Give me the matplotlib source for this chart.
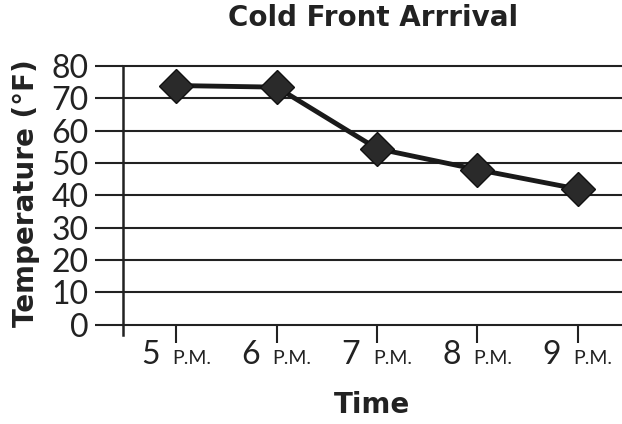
import numpy as np
import matplotlib.pyplot as plt

times = ["5", "6", "7", "8", "9"]
suffix = "P.M."
temps = [74, 73.5, 54.5, 48, 42]
yticks = [0, 10, 20, 30, 40, 50, 60, 70, 80]

num_font = "Lato"
head_font = "DejaVu Sans"

fig = plt.figure(figsize=(6.22, 4.24), dpi=100)
ax = fig.add_axes([0.198, 0.234, 0.80, 0.61])

x = np.arange(len(times))
ax.plot(x, temps, color="#1a1a1a", lw=3.5, marker="D", markersize=17,
        markerfacecolor="#2a2a2a", markeredgecolor="#111111", zorder=3)

ax.set_xlim(-0.53, 4.43)
ax.set_ylim(0, 80)
ax.set_yticks(yticks)
ax.set_yticklabels([str(v) for v in yticks], fontsize=23, family=num_font,
                   color="#222222")
ax.tick_params(axis="y", length=20, width=1.5, color="#222222", pad=5)
for y in yticks:
    ax.axhline(y, color="#222222", lw=1.5, zorder=1, clip_on=False)

ax.set_xticks(x)
ax.set_xticklabels([])
ax.tick_params(axis="x", length=13, width=1.5, color="#222222", direction="out")
for xi, t in zip(x, times):
    ax.annotate(t, (xi, 0), xytext=(-12, -28), textcoords="offset points",
                ha="right", va="baseline", fontsize=23, family=num_font,
                color="#222222")
    ax.annotate(suffix, (xi, 0), xytext=(-3, -28), textcoords="offset points",
                ha="left", va="baseline", fontsize=14, family=num_font,
                color="#222222")

for s in ["top", "right", "bottom"]:
    ax.spines[s].set_visible(False)
ax.spines["left"].set_bounds(-3.2, 80)
ax.spines["left"].set_linewidth(1.8)
ax.spines["left"].set_color("#222222")

fig.text(0.60, 0.958, "Cold Front Arrrival", ha="center", va="center",
         fontsize=20, fontweight="bold", family=head_font, color="#222222")
fig.text(0.598, 0.045, "Time", ha="center", va="center",
         fontsize=20, fontweight="bold", family=head_font, color="#222222")
fig.text(0.042, 0.545, "Temperature (°F)", ha="center", va="center",
         rotation=90, fontsize=20, fontweight="bold", family=head_font,
         color="#222222")

fig.savefig("out.png", dpi=100)
